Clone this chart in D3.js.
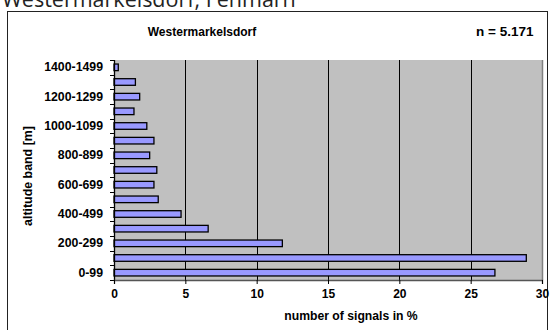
<!DOCTYPE html>
<html><head><meta charset="utf-8">
<script src="https://cdn.jsdelivr.net/npm/d3@7"></script>
<style>body{margin:0;background:#fff}svg{display:block}</style>
</head><body>
<svg id="c" width="553" height="330"></svg>
<script>
const categories = ["0-99","100-199","200-299","300-399","400-499","500-599","600-699","700-799","800-899","900-999","1000-1099","1100-1199","1200-1299","1300-1399","1400-1499"];
const values = [26.7,28.9,11.8,6.6,4.7,3.1,2.8,3.0,2.5,2.8,2.3,1.4,1.8,1.5,0.3];
const xTicks = [0,5,10,15,20,25,30];
const pageTitle = "Westermarkelsdorf, Fehmarn";
const chartTitle = "Westermarkelsdorf";
const nLabel = "n = 5.171";
const xLabel = "number of signals in %";
const yLabel = "altitude band [m]";

const svg = d3.select("#c");
const L=114, R=542, T=60, B=280;
const x = d3.scaleLinear().domain([0,30]).range([L,R]);
const y = d3.scaleBand().domain(categories).range([B,T]).paddingInner(0.55).paddingOuter(0.275);
const FONT = "Liberation Sans, Arial, sans-serif";

svg.append("text").attr("x",2).attr("y",7).attr("font-family","Open Sans").attr("font-size",21.5)
  .attr("fill","#222").text(pageTitle);
svg.append("rect").attr("x",7.5).attr("y",11.5).attr("width",540).attr("height",330).attr("fill","none").attr("stroke","#222").attr("stroke-width",1);

svg.append("rect").attr("x",L).attr("y",T).attr("width",R-L).attr("height",B-T).attr("fill","#c0c0c0");
// gridlines
svg.selectAll(".g").data(xTicks.filter(d=>d>0&&d<30)).enter().append("line")
  .attr("x1",d=>Math.round(x(d))+0.5).attr("x2",d=>Math.round(x(d))+0.5).attr("y1",T).attr("y2",B).attr("stroke","#000");
// plot border right
svg.append("line").attr("x1",R+0.5).attr("x2",R+0.5).attr("y1",T).attr("y2",B).attr("stroke","#808080").attr("stroke-width",1.5);

// bars
svg.selectAll(".bar").data(values).enter().append("rect")
  .attr("x",x(0)).attr("y",(d,i)=>y(categories[i]))
  .attr("width",d=>x(d)-x(0)).attr("height",y.bandwidth())
  .attr("fill","#9999ff").attr("stroke","#000").attr("stroke-width",1.3);

// y axis
const yAxis = d3.axisLeft(y).tickSize(0).tickFormat((d,i)=> i%2===0? d : "");
const ya = svg.append("g").attr("transform",`translate(${L},0)`).call(yAxis);
ya.select(".domain").remove();
ya.selectAll("text").attr("x",-11).attr("font-family",FONT).attr("font-weight","bold").attr("font-size",12.3).attr("fill","#000");
// y tick marks at band boundaries
const step = (B-T)/categories.length;
svg.selectAll(".yt").data(d3.range(categories.length+1)).enter().append("line")
  .attr("x1",L-4).attr("x2",L).attr("y1",d=>Math.round(B-d*step)+0.5).attr("y2",d=>Math.round(B-d*step)+0.5).attr("stroke","#000");
svg.append("line").attr("x1",L+0.5).attr("x2",L+0.5).attr("y1",T).attr("y2",B+1).attr("stroke","#000").attr("stroke-width",1.3);

// x axis
const xAxis = d3.axisBottom(x).tickValues(xTicks).tickSize(4).tickFormat(d3.format("d"));
const xa = svg.append("g").attr("transform",`translate(0,${B})`).call(xAxis);
xa.select(".domain").attr("stroke","#555").attr("stroke-width",1.3);
xa.selectAll("line").attr("stroke","#000");
xa.selectAll("text").attr("y",9).attr("font-family",FONT).attr("font-weight","bold").attr("font-size",12).attr("fill","#000");

svg.append("text").attr("x",351).attr("y",320).attr("text-anchor","middle").attr("font-family",FONT).attr("font-weight","bold").attr("font-size",12.2).text(xLabel);
svg.append("text").attr("transform","translate(32,176) rotate(-90)").attr("text-anchor","middle").attr("font-family",FONT).attr("font-weight","bold").attr("font-size",12.4).text(yLabel);
svg.append("text").attr("x",202).attr("y",36).attr("text-anchor","middle").attr("font-family",FONT).attr("font-weight","bold").attr("font-size",12).text(chartTitle);
svg.append("text").attr("x",476).attr("y",36).attr("font-family",FONT).attr("font-weight","bold").attr("font-size",13.5).text(nLabel);
</script>
</body></html>
